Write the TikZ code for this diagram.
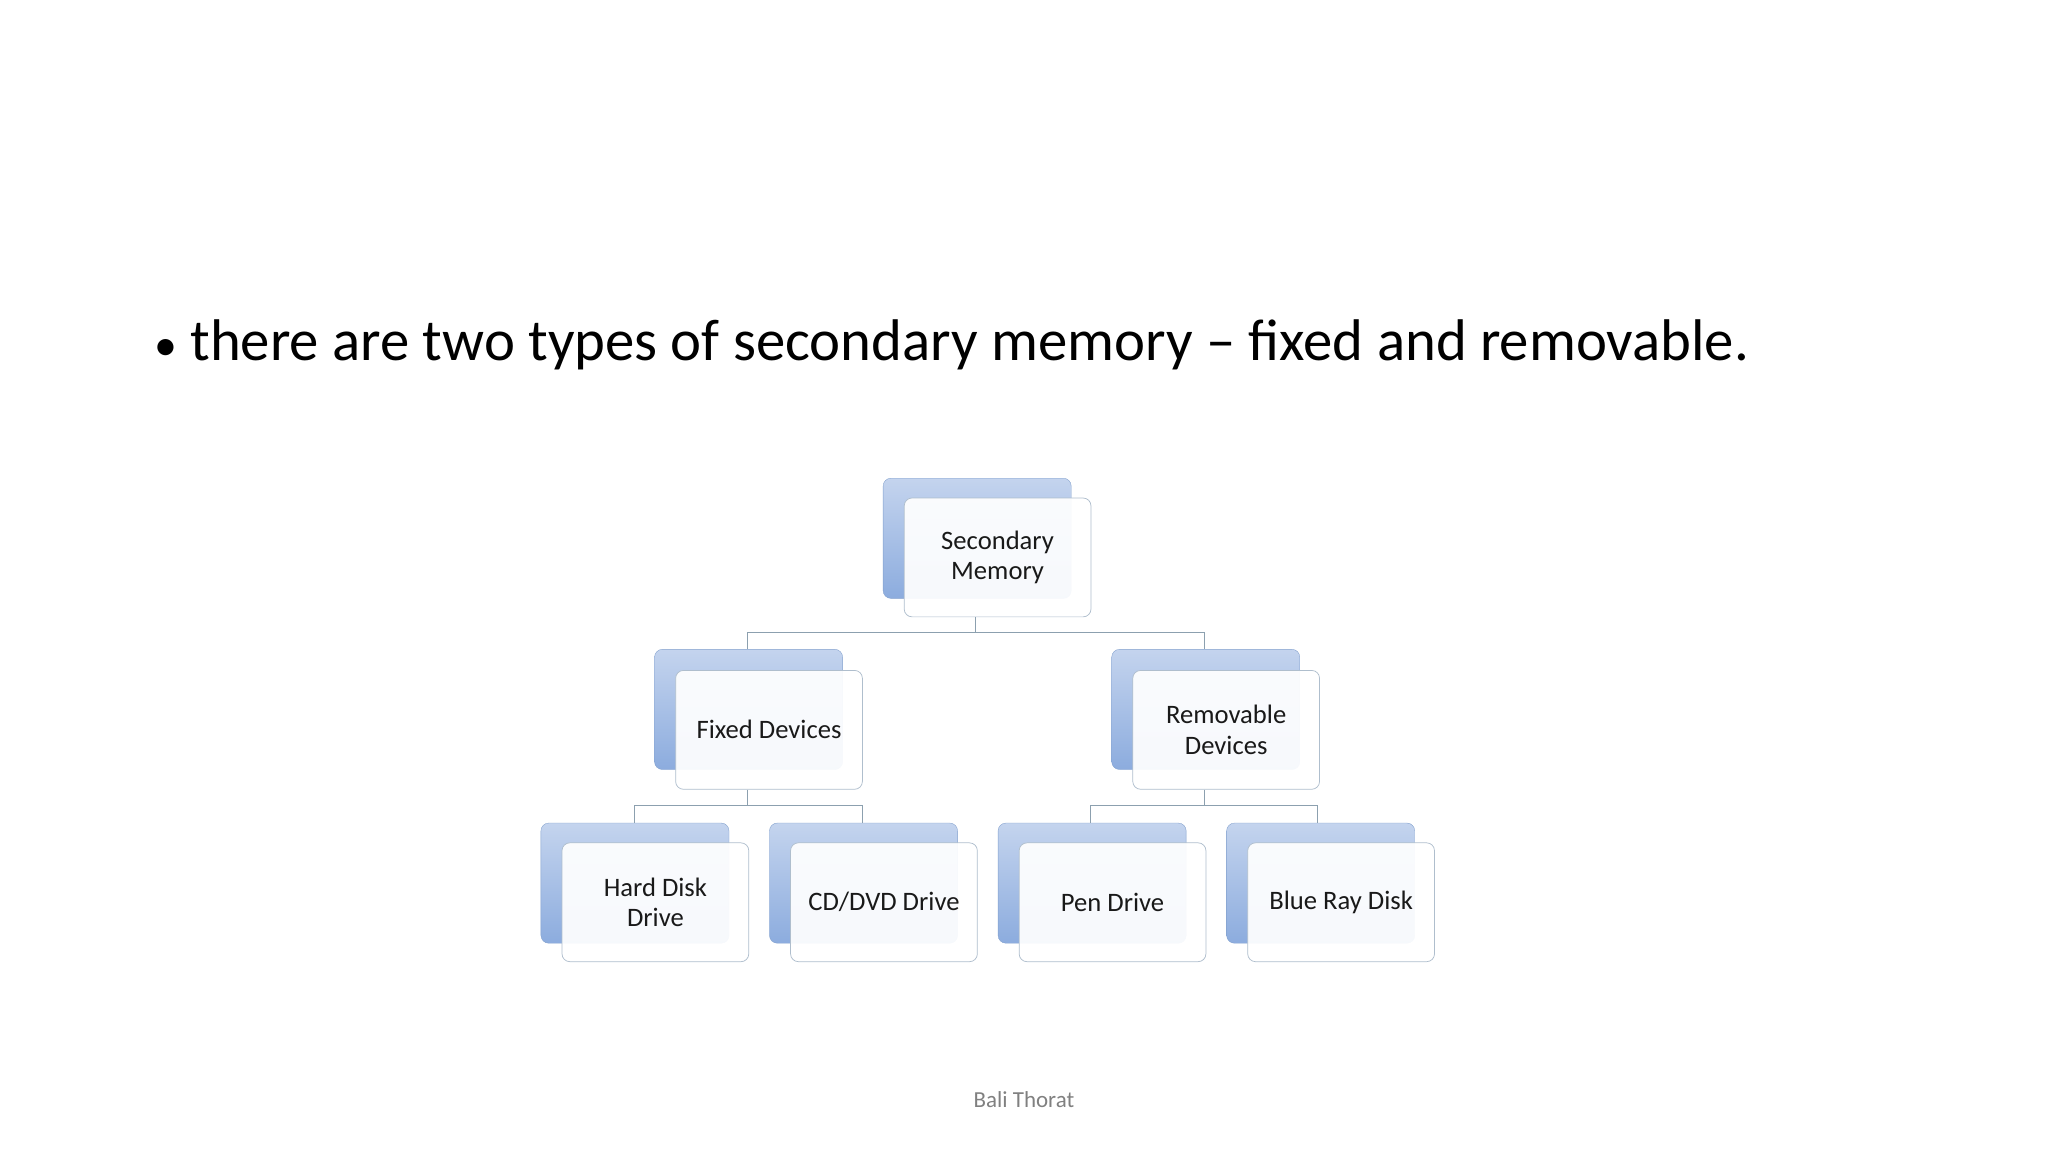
\documentclass[tikz,border=0pt]{standalone}
\usepackage{fontspec}
\setmainfont{Carlito}
\usetikzlibrary{positioning,calc}
\definecolor{btop}{RGB}{196,212,238}
\definecolor{bbot}{RGB}{140,172,222}
\definecolor{bline}{RGB}{130,160,205}
\definecolor{fline}{RGB}{175,190,205}
\definecolor{cline}{RGB}{140,160,175}
\begin{document}
\begin{tikzpicture}[x=0.5mm,y=-0.5mm,
 back/.style={rounded corners=3mm,draw=bline,top color=btop,bottom color=bbot,minimum width=72mm,minimum height=46mm,anchor=north west,inner sep=0},
 front/.style={rounded corners=3mm,draw=fline,line width=0.8pt,fill=white,fill opacity=0.93,text opacity=1,minimum width=71.5mm,minimum height=45.5mm,anchor=north west,align=center,font=\fontsize{29pt}{33pt}\selectfont,text=black!90,inner sep=0},
 conn/.style={draw=cline,line width=0.9pt}]
\useasboundingbox (0,0) rectangle (1568,882);
\node[anchor=west,font=\fontsize{64pt}{70pt}\selectfont,inner sep=0] (title) at (118,264) {{\fontsize{50pt}{60pt}\selectfont\textbullet}\ there are two types of secondary memory – fixed and removable.};
\node[font=\fontsize{25pt}{28pt}\selectfont,text=gray] (foot) at (784,842) {Bali Thorat};
% back boxes
\node[back] (bS) at (676,366) {};
\node[back] (bF) at (501,497) {};
\node[back] (bR) at (851,497) {};
\node[back] (bH) at (414,630) {};
\node[back] (bC) at (589,630) {};
\node[back] (bP) at (764,630) {};
\node[back] (bB) at (939,630) {};
% front boxes
\node[front] (S) at (692,381) {Secondary\\Memory};
\node[front] (F) at (517,513) {Fixed Devices};
\node[front] (R) at (867,513) {Removable\\Devices};
\node[front] (H) at (430,645) {Hard Disk\\Drive};
\node[front] (C) at (605,645) {CD/DVD Drive};
\node[front] (P) at (780,645) {Pen Drive};
\node[front] (B) at (955,645) {Blue Ray Disk};
% connectors
\coordinate (j1) at (747,484);
\coordinate (j2) at (572,617);
\coordinate (j3) at (922,617);
\draw[conn] (S.south -| j1) -- (j1);
\draw[conn] (bF.north -| j2) |- (j1) -| (bR.north -| j3);
\draw[conn] (F.south -| j2) -- (j2);
\draw[conn] (bH.north -| 486,0) |- (j2) -| (bC.north -| 660,0);
\draw[conn] (R.south -| j3) -- (j3);
\draw[conn] (bP.north -| 835,0) |- (j3) -| (bB.north -| 1009,0);
\end{tikzpicture}
\end{document}
